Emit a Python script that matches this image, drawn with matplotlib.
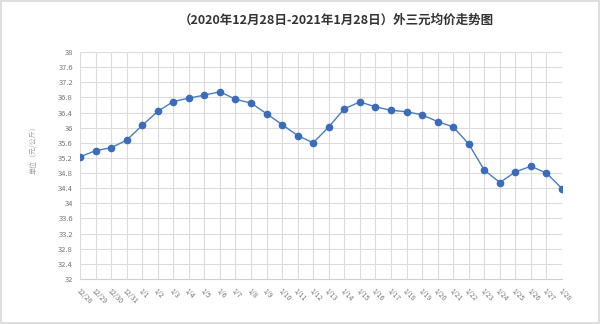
import matplotlib
matplotlib.use("Agg")
import matplotlib.pyplot as plt
from matplotlib.patches import Rectangle

plt.rcParams['font.family'] = ['Noto Sans CJK SC', 'DejaVu Sans']

dates = ["12/28", "12/29", "12/30", "12/31"] + [f"1/{d}" for d in range(1, 29)]
prices = [35.23, 35.39, 35.47, 35.67, 36.06, 36.43, 36.69, 36.78, 36.86, 36.95,
          36.75, 36.65, 36.37, 36.08, 35.79, 35.60, 36.02, 36.50, 36.68, 36.55,
          36.46, 36.42, 36.34, 36.16, 36.02, 35.57, 34.88, 34.55, 34.83, 34.98,
          34.80, 34.39]
yticks = [32 + 0.4 * i for i in range(16)]
title = "（2020年12月28日-2021年1月28日）外三元均价走势图"
ylabel = "单位（元/公斤）"

fig = plt.figure(figsize=(6, 3.24), dpi=100)
ax = fig.add_axes([80/600, 1 - 279/324, (562-80)/600, (279-52)/324])

x = list(range(len(dates)))
ax.plot(x, prices, color="#4a7cc4", lw=1.0, marker="o", ms=4.5,
        markerfacecolor="#3a6cba", markeredgecolor="#3a6cba", zorder=3)

ax.set_xlim(0, len(dates) - 1)
ax.set_ylim(32, 38)
ax.set_yticks(yticks)
ax.set_yticklabels([f"{v:g}" for v in [round(t, 1) for t in yticks]],
                   fontsize=5.5, color="#777777")
ax.set_xticks(x)
ax.set_xticklabels(dates, rotation=-45, ha="left", va="top",
                   rotation_mode="anchor", fontsize=5, color="#777777")
ax.tick_params(axis="both", length=0)
ax.tick_params(axis="x", pad=6)
ax.tick_params(axis="y", pad=5)
ax.grid(True, color="#dcdcdc", lw=0.8)
ax.set_axisbelow(True)
for s in ["top", "right", "left"]:
    ax.spines[s].set_visible(False)
ax.spines["bottom"].set_color("#d0d0d0")

fig.text(336/600, 1 - 20/324, title, ha="center", va="center",
         fontsize=9, fontweight="bold", color="#333333")
fig.text(34/600, 1 - 148/324, ylabel, rotation=90, ha="center", va="center",
         fontsize=5, color="#a0a0a0")

fig.patches.append(Rectangle((0.002, 0.003), 0.996, 0.994, transform=fig.transFigure,
                             fill=False, edgecolor="#d8d8d8", lw=1.2))

fig.savefig("out.png", dpi=100)
